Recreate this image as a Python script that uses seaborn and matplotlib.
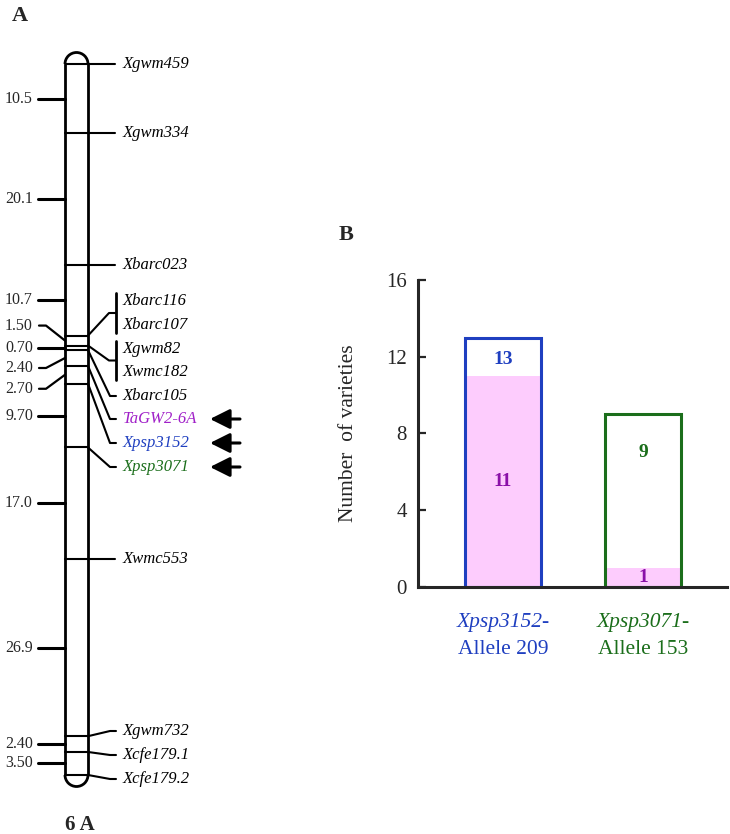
import matplotlib
matplotlib.use('Agg')
import matplotlib.pyplot as plt
from matplotlib.patches import Arc
import numpy as np
import pandas as pd
import seaborn as sns

# panel A: genetic map of chromosome 6A
interval_labels = ['10.5', '20.1', '10.7', '1.50', '0.70', '2.40', '2.70', '9.70', '17.0', '26.9', '2.40', '3.50']
marker_names = ['Xgwm459', 'Xgwm334', 'Xbarc023', 'Xbarc116', 'Xbarc107', 'Xgwm82', 'Xwmc182', 'Xbarc105',
                'TaGW2-6A', 'Xpsp3152', 'Xpsp3071', 'Xwmc553', 'Xgwm732', 'Xcfe179.1', 'Xcfe179.2']
marker_locus = [0, 1, 2, 3, 3, 4, 4, 5, 6, 7, 8, 9, 10, 11, 12]
highlighted = ['TaGW2-6A', 'Xpsp3152', 'Xpsp3071']

# panel B: varieties per allele
bar_markers = ['Xpsp3152', 'Xpsp3071']
bar_alleles = ['Allele 209', 'Allele 153']
n_total = [13, 9]
n_tagw2 = [11, 1]

purple = '#a020c8'
purple_dark = '#8a10a8'
blue = '#1f3fc0'
green = '#1b6e1b'
pink = '#fdccfd'
name_colors = {'TaGW2-6A': purple, 'Xpsp3152': blue, 'Xpsp3071': green}

sns.set_style('ticks')
plt.rcParams['font.family'] = ['Liberation Serif', 'DejaVu Serif']

W, H = 730, 834
fig = plt.figure(figsize=(W / 100, H / 100), dpi=100)

# ---------- panel A ----------
intervals = np.array([float(s) for s in interval_labels])
loci = np.concatenate([[0], np.cumsum(intervals)])
top_px, bot_px = 64, 775
ppc = (bot_px - top_px) / loci[-1]


def cm(py):
    return (py - top_px) / ppc


axA = fig.add_axes([0, 0, 330 / W, 1])
axA.set_xlim(0, 330)
axA.set_ylim(cm(H), cm(0))
axA.axis('off')

xl, xr = 65, 88
axA.plot([xl, xl], [0, loci[-1]], color='k', lw=2, solid_capstyle='butt')
axA.plot([xr, xr], [0, loci[-1]], color='k', lw=2, solid_capstyle='butt')
axA.add_patch(Arc(((xl + xr) / 2, 0), xr - xl, (xr - xl) / ppc, theta1=180, theta2=360, color='k', lw=2))
axA.add_patch(Arc(((xl + xr) / 2, loci[-1]), xr - xl, (xr - xl) / ppc, theta1=0, theta2=180, color='k', lw=2))
for y in loci:
    axA.plot([xl, xr], [y, y], color='k', lw=1.5)

# distance labels on the left
mids = (loci[:-1] + loci[1:]) / 2
label_shift = {3: -15, 5: 10, 6: 14}
for i, (lab, m) in enumerate(zip(interval_labels, mids)):
    ylab = m + label_shift.get(i, 0) / ppc
    if i in label_shift:
        axA.plot([39, 46, xl], [ylab, ylab, m], color='k', lw=1.6)
    else:
        axA.plot([38, xl], [m, m], color='k', lw=2.2)
    axA.text(33, ylab, lab, ha='right', va='center', fontsize=11.5)

# marker names on the right
label_px = [64, 133, 265, 301, 325, 349, 372, 396, 419, 443, 467, 559, 731, 755, 779]
groups = {}
for name, li, lp in zip(marker_names, marker_locus, label_px):
    groups.setdefault(li, []).append(cm(lp))
    axA.text(123, cm(lp), name, ha='left', va='center', fontsize=12, style='italic',
             color=name_colors.get(name, 'k'))
    if name in highlighted:
        axA.annotate('', xy=(210, cm(lp)), xytext=(240, cm(lp)),
                     arrowprops=dict(arrowstyle='-|>', lw=2.2, color='k', mutation_scale=30,
                                     shrinkA=0, shrinkB=0))

for li, ys in groups.items():
    y0 = loci[li]
    if len(ys) > 1:
        axA.plot([116, 116], [ys[0] - 8 / ppc, ys[-1] + 8 / ppc], color='k', lw=2)
        ym = (ys[0] + ys[-1]) / 2
        axA.plot([xr, 109, 116], [y0, ym, ym], color='k', lw=1.5)
    elif abs(ys[0] - y0) * ppc < 1.5:
        axA.plot([xr, 115], [y0, y0], color='k', lw=1.5)
    else:
        axA.plot([xr, 110, 116], [y0, ys[0], ys[0]], color='k', lw=1.5)

axA.text(80, cm(825), '6 A', ha='center', va='center', fontsize=15, fontweight='bold')
fig.text(20 / W, 1 - 16 / H, 'A', ha='center', va='center', fontsize=16, fontweight='bold')

# ---------- panel B ----------
bars = pd.DataFrame({'marker': bar_markers, 'total': n_total, 'tagw2': n_tagw2})
axB = fig.add_axes([418 / W, 1 - 587 / H, 309 / W, 307 / H])
sns.barplot(data=bars, x='marker', y='tagw2', color=pink, saturation=1, width=0.545,
            linewidth=0, ax=axB)
sns.barplot(data=bars, x='marker', y='total', hue='marker', palette=[blue, green], saturation=1,
            fill=False, width=0.545, linewidth=2.2, legend=False, ax=axB)
axB.set_xlim(-0.607, 1.6)
axB.set_ylim(0, 16)
axB.set_yticks([0, 4, 8, 12, 16])
axB.tick_params(axis='y', direction='in', length=6, width=1.6, labelsize=15, pad=8)
axB.tick_params(axis='x', length=0, labelbottom=False)
sns.despine(ax=axB)
for s in ['left', 'bottom']:
    axB.spines[s].set_linewidth(2.2)
axB.set_xlabel('')
axB.set_ylabel('Number  of varieties', fontsize=15.5)
axB.yaxis.set_label_coords(-0.195, 0.5)

total_label_y = [11.85, 7.0]
for i, (t, p) in enumerate(zip(n_total, n_tagw2)):
    c = [blue, green][i]
    axB.text(i, total_label_y[i], str(t), ha='center', va='center', fontsize=14, fontweight='bold', color=c)
    axB.text(i, p / 2, str(p), ha='center', va='center', fontsize=14, fontweight='bold', color=purple_dark)
    axB.text(i, -36 / 307, bar_markers[i] + '-', transform=axB.get_xaxis_transform(), ha='center',
             va='center', fontsize=15.5, style='italic', color=c)
    axB.text(i, -62 / 307, bar_alleles[i], transform=axB.get_xaxis_transform(), ha='center',
             va='center', fontsize=15.5, color=c)

fig.text(346 / W, 1 - 235 / H, 'B', ha='center', va='center', fontsize=16, fontweight='bold')

fig.savefig('out.png', dpi=100)
